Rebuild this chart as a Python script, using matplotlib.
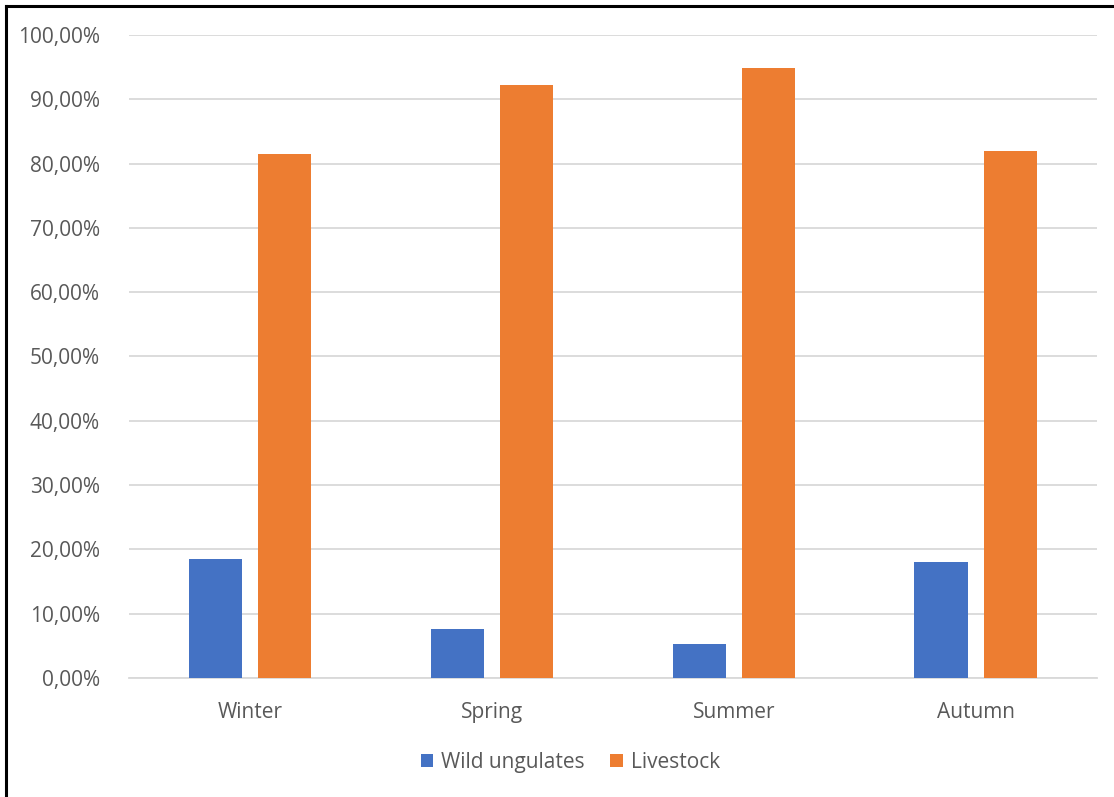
import numpy as np
import matplotlib.pyplot as plt
from matplotlib.lines import Line2D
from matplotlib.ticker import FuncFormatter

seasons = ['Winter', 'Spring', 'Summer', 'Autumn']
wild = [18.5, 7.6, 5.3, 18.0]
livestock = [81.5, 92.2, 94.9, 82.0]

blue = '#4472C4'
orange = '#ED7D31'
txt = '#595959'
grid = '#D9D9D9'

plt.rcParams['font.family'] = ['Open Sans', 'DejaVu Sans']

fig = plt.figure(figsize=(11.14, 7.97), dpi=100)
ax = fig.add_axes([0.1158, 0.1493, 0.8689, 0.8068])

x = np.arange(len(seasons))
w = 0.222
ax.bar(x - 0.143, wild, w, color=blue, label='Wild ungulates', zorder=3)
ax.bar(x + 0.143, livestock, w, color=orange, label='Livestock', zorder=3)

ax.set_xlim(-0.5, 3.5)
ax.set_ylim(0, 100)
ax.set_yticks(np.arange(0, 101, 10))
ax.yaxis.set_major_formatter(FuncFormatter(lambda v, p: ('%.2f%%' % v).replace('.', ',')))
ax.set_xticks(x)
ax.set_xticklabels(seasons)
ax.grid(axis='y', color=grid, linewidth=1.3, zorder=0)
for s in ['top', 'right', 'left']:
    ax.spines[s].set_visible(False)
ax.spines['bottom'].set_color(grid)
ax.spines['bottom'].set_linewidth(1.3)
ax.tick_params(axis='both', length=0, labelsize=15, labelcolor=txt)
ax.tick_params(axis='y', pad=21)
ax.tick_params(axis='x', pad=17)

fig.legend(loc='lower center', bbox_to_anchor=(0.512, 0.007), ncol=2, frameon=False,
           fontsize=15, labelcolor=txt, handlelength=0.6, handleheight=0.6,
           handletextpad=0.4, columnspacing=1.2)

# outer frame (left and top only visible in the crop)
fig.add_artist(Line2D([0.0058, 0.0058], [0, 0.9925], color='black', linewidth=2.2, transform=fig.transFigure))
fig.add_artist(Line2D([0.0058, 1], [0.9925, 0.9925], color='black', linewidth=2.2, transform=fig.transFigure))

fig.savefig('out.png', dpi=100)
